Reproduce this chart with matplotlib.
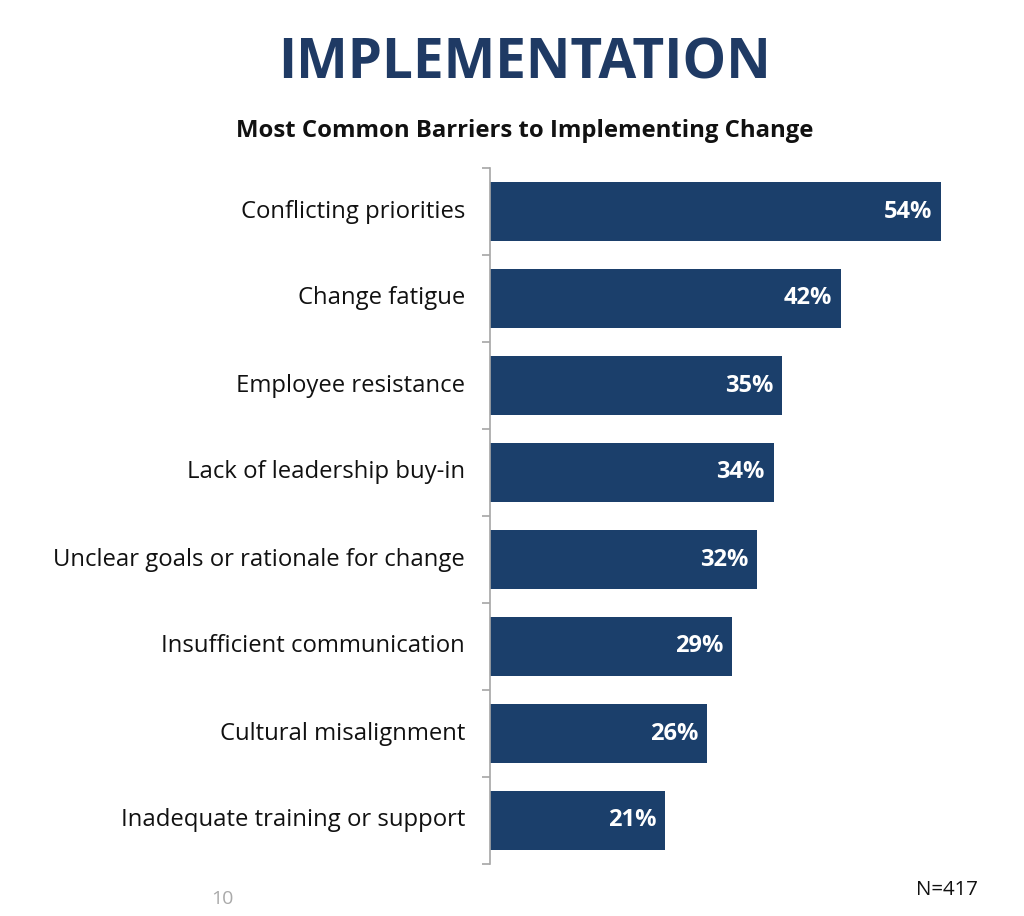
import matplotlib.pyplot as plt

# data
barriers = [
    "Conflicting priorities",
    "Change fatigue",
    "Employee resistance",
    "Lack of leadership buy-in",
    "Unclear goals or rationale for change",
    "Insufficient communication",
    "Cultural misalignment",
    "Inadequate training or support",
]
percent = [54, 42, 35, 34, 32, 29, 26, 21]

bar_color = "#1b3f6b"
plt.rcParams['font.family'] = ['Open Sans', 'DejaVu Sans']

fig = plt.figure(figsize=(10.24, 9.16), dpi=100)
ax = fig.add_axes([490/1024, 1-864/916, (941-490)/1024, (864-168)/916])

ypos = list(range(len(barriers)))
ax.barh(ypos, percent, height=0.67, color=bar_color)
ax.set_ylim(len(barriers) - 0.5, -0.5)
ax.set_xlim(0, max(percent))

# value labels inside bars
for y, v in zip(ypos, percent):
    ax.text(v - 1.1, y, f"{v}%", ha="right", va="center",
            color="white", fontsize=17, fontweight="bold")

# category labels, ticks between categories
for y, name in zip(ypos, barriers):
    ax.text(-3.0, y, name, ha="right", va="center", fontsize=17.2, color="#111111")
ax.set_yticks([y - 0.5 for y in ypos] + [len(barriers) - 0.5])
ax.set_yticklabels([])
ax.tick_params(axis="y", length=6, color="#a6a6a6", width=1.2)
ax.set_xticks([])

for s in ["top", "right", "bottom"]:
    ax.spines[s].set_visible(False)
ax.spines["left"].set_color("#a6a6a6")
ax.spines["left"].set_linewidth(1.2)

fig.text(0.512, 1-64/916, "IMPLEMENTATION", ha="center", va="center",
         fontsize=39.5, fontweight="bold", color="#1f3a64")
fig.text(0.512, 1-131/916, "Most Common Barriers to Implementing Change",
         ha="center", va="center", fontsize=17.2, fontweight="bold", color="#111111")
fig.text(978/1024, 1-890/916, "N=417", ha="right", va="center",
         fontsize=14.7, color="#111111")
fig.text(222/1024, 1-899/916, "10", ha="center", va="center",
         fontsize=14, color="#aaaaaa")

fig.savefig("out.png", dpi=100)
